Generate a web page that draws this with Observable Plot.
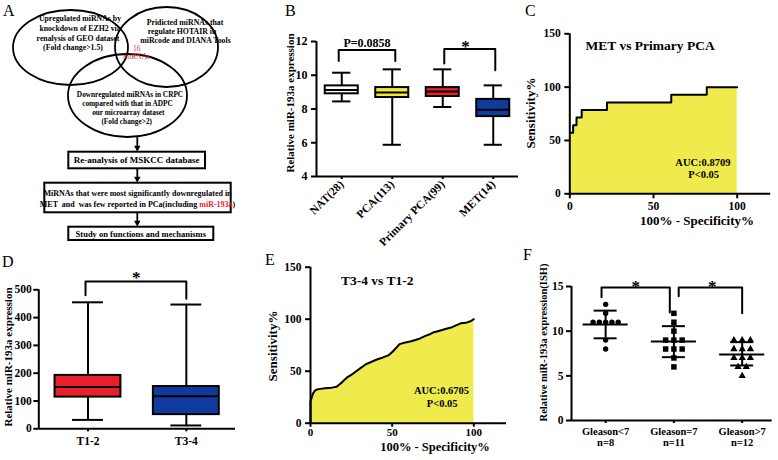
<!DOCTYPE html>
<html>
<head>
<meta charset="utf-8">
<script src="https://cdn.jsdelivr.net/npm/d3@7"></script>
<script src="https://cdn.jsdelivr.net/npm/@observablehq/plot@0.6"></script>
<style>
  html, body { margin: 0; padding: 0; background: #fff; }
  #fig { position: relative; width: 778px; height: 460px; overflow: hidden; background: #fff; }
  .panel { position: absolute; }
</style>
</head>
<body>
<div id="fig"></div>
<script>
// ---------------- DATA ----------------
// Panel B: box plot summaries
const catsB = ["NAT(28)", "PCA(113)", "Primary PCA(99)", "MET(14)"];
const minB  = [8.45, 5.88, 8.12, 5.88];
const q1B   = [8.90, 8.68, 8.74, 7.55];
const medB  = [9.13, 8.98, 9.03, 7.95];
const q3B   = [9.37, 9.27, 9.27, 8.57];
const maxB  = [10.15, 10.35, 10.35, 9.40];
const brB_x1 = [0.94, 3.03], brB_x2 = [2.06, 4.04];
const brB_top = [11.5, 11.55], brB_end1 = [10.85, 10.7], brB_end2 = [10.85, 10.3];
const brB_label = ["P=0.0858", "*"];
const brB_lx = [1.5, 3.45], brB_ly = [11.92, 11.95];

// Panel C: ROC MET vs Primary PCA (step points)
const rocC_x = [0, 2.0, 4.0, 7.1, 22.2, 60.6, 81.8, 100];
const rocC_y = [57.14, 64.29, 71.43, 78.57, 85.71, 92.86, 100, 100];
const titleC = "MET vs Primary PCA", aucC = "AUC:0.8709", pC = "P<0.05";

// Panel D: box plot summaries
const catsD = ["T1-2", "T3-4"];
const minD = [32, 12];
const q1D  = [114, 51];
const medD = [150, 117];
const q3D  = [192, 152];
const maxD = [455, 447];
const brD_x1 = [0.975], brD_x2 = [2.0], brD_top = [530], brD_end1 = [480], brD_end2 = [468];
const brD_lx = [1.49], brD_ly = [560];

// Panel E: ROC T3-4 vs T1-2
const rocE_x = [0,0,0.6,1.4,2.5,4,6,9,13,16,17.5,19.4,21,22.4,25,27.6,30.6,33.7,37.8,41,44,48,50.4,52.5,54.5,58,61,64.3,67,70.4,73,75.5,78,82.6,86.7,89.8,92,95,98,100];
const rocE_y = [0,21,24,28,31,32.5,33,33.5,34.2,35,37,39.5,42,44,46.5,49.5,53,56.5,59.3,61.5,63,65.5,69,72.5,76,77.6,78.5,80,81.5,84,85.5,87.5,88.5,90.5,92.3,94.5,96,96.5,98,100];
const titleE = "T3-4 vs T1-2", aucE = "AUC:0.6705", pE = "P<0.05";

// Panel F: Gleason groups (ISH)
const catsF = ["Gleason<7\nn=8", "Gleason=7\nn=11", "Gleason>7\nn=12"];
const valsF1 = [13, 12, 11, 11, 11, 11, 11, 9, 8];
const valsF2 = [12, 11, 10, 9, 9, 9, 8, 8, 8, 7, 6];
const valsF3 = [9, 9, 9, 8, 8, 8, 7, 7, 7, 6, 6, 5];
const meanF = [10.75, 8.85, 7.4];
const hiF   = [12.3, 10.56, 8.77];
const loF   = [9.2, 7.09, 6.16];
const brF_x1 = [0.94, 2.07], brF_x2 = [1.94, 3.0];
const brF_top = [14.9, 14.9], brF_end1 = [13.8, 13.9], brF_end2 = [12.1, 12.0];
const brF_lx = [1.44, 2.56], brF_ly = [15.45, 15.45];

// ---------------- STYLE ----------------
const SERIF = '"Liberation Serif", "Times New Roman", serif';
const baseStyle = {fontFamily: SERIF, fontWeight: "bold", fontSize: "11px", color: "black", background: "transparent", overflow: "visible"};
const fillB = ["#ffffff", "#f0ea3c", "#e8202a", "#0f3c9c"];
const fillD = ["#e8202a", "#0f3c9c"];
const rocFill = "#efeb4c";
const SW = 2;

const fig = document.getElementById("fig");
function place(svg, left, top) {
  const d = document.createElement("div");
  d.className = "panel";
  d.style.left = left + "px";
  d.style.top = top + "px";
  d.appendChild(svg);
  fig.appendChild(d);
}
function bracketPoints(x1, x2, top, e1, e2) {
  const pts = [];
  x1.forEach((_, i) => {
    pts.push({id: i, x: x1[i], y: e1[i]}, {id: i, x: x1[i], y: top[i]},
             {id: i, x: x2[i], y: top[i]}, {id: i, x: x2[i], y: e2[i]});
  });
  return pts;
}
function boxMarks(data, halfBox, halfCap, fills) {
  return [
    Plot.ruleX(data, {x: "pos", y1: "min", y2: "max", stroke: "black", strokeWidth: SW}),
    Plot.ruleY(data, {y: "min", x1: d => d.pos - halfCap, x2: d => d.pos + halfCap, stroke: "black", strokeWidth: SW}),
    Plot.ruleY(data, {y: "max", x1: d => d.pos - halfCap, x2: d => d.pos + halfCap, stroke: "black", strokeWidth: SW}),
    Plot.rect(data, {x1: d => d.pos - halfBox, x2: d => d.pos + halfBox, y1: "q1", y2: "q3",
                     fill: d => fills[d.pos - 1], stroke: "black", strokeWidth: SW}),
    Plot.ruleY(data, {y: "med", x1: d => d.pos - halfBox, x2: d => d.pos + halfBox, stroke: "black", strokeWidth: SW})
  ];
}

// ---------------- PANEL B ----------------
const dataB = catsB.map((c, i) => ({pos: i + 1, cat: c, min: minB[i], q1: q1B[i], med: medB[i], q3: q3B[i], max: maxB[i]}));
const labB = brB_label.map((t, i) => ({t, x: brB_lx[i], y: brB_ly[i]}));
place(Plot.plot({
  width: 270, height: 230, marginLeft: 66, marginRight: 2, marginTop: 41, marginBottom: 54,
  style: baseStyle,
  x: {domain: [0.5, 4.5]},
  y: {domain: [4, 12]},
  marks: [
    ...boxMarks(dataB, 0.327, 0.18, fillB),
    Plot.line(bracketPoints(brB_x1, brB_x2, brB_top, brB_end1, brB_end2), {x: "x", y: "y", z: "id", stroke: "black", strokeWidth: SW}),
    Plot.text(labB.slice(0, 1), {x: "x", y: "y", text: "t", fontSize: 12, fill: "black"}),
    Plot.text(labB.slice(1), {x: "x", y: "y", text: "t", fontSize: 17, dy: 4, fill: "black"}),
    Plot.axisY({ticks: [4, 6, 8, 10, 12], tickSize: 5, tickPadding: 4, strokeWidth: SW, fontSize: 12, label: null}),
    Plot.axisX({ticks: [1, 2, 3, 4], tickFormat: i => catsB[i - 1], tickRotate: -45, tickSize: 3, tickPadding: 3, strokeWidth: SW, fontSize: 11.5, label: null}),
    Plot.ruleX([0.5], {stroke: "black", strokeWidth: SW}),
    Plot.ruleY([4], {stroke: "black", strokeWidth: SW})
  ]
}), 250, 0);

// ---------------- PANEL C ----------------
const dataC = rocC_x.map((x, i) => ({x, y: rocC_y[i]}));
place(Plot.plot({
  width: 268, height: 230, marginLeft: 59.3, marginRight: 7.8, marginTop: 33.3, marginBottom: 36.7,
  style: baseStyle,
  x: {domain: [0, 120]},
  y: {domain: [0, 150]},
  marks: [
    Plot.areaY(dataC, {x: "x", y: "y", fill: rocFill, curve: "step-after"}),
    Plot.lineY(dataC, {x: "x", y: "y", stroke: "black", strokeWidth: SW, curve: "step-after"}),
    Plot.text([titleC], {x: 48, y: 139, fontSize: 13.5, fill: "black"}),
    Plot.text([aucC], {x: 79.5, y: 29.6, fontSize: 10.5, fill: "black"}),
    Plot.text([pC], {x: 80, y: 18.1, fontSize: 10.5, fill: "black"}),
    Plot.axisY({ticks: [0, 50, 100, 150], tickSize: 5, tickPadding: 4, strokeWidth: SW, fontSize: 11.5, label: null}),
    Plot.axisX({ticks: [0, 50, 100], tickSize: 5, tickPadding: 3, strokeWidth: SW, fontSize: 11.5, label: null}),
    Plot.ruleX([0], {stroke: "black", strokeWidth: SW}),
    Plot.ruleY([0], {stroke: "black", strokeWidth: SW})
  ]
}), 510, 0);

// ---------------- PANEL D ----------------
const dataD = catsD.map((c, i) => ({pos: i + 1, cat: c, min: minD[i], q1: q1D[i], med: medD[i], q3: q3D[i], max: maxD[i]}));
place(Plot.plot({
  width: 250, height: 230, marginLeft: 38.3, marginRight: 15, marginTop: 59.3, marginBottom: 31.7,
  style: baseStyle,
  x: {domain: [0.5, 2.5]},
  y: {domain: [0, 500]},
  marks: [
    ...boxMarks(dataD, 0.335, 0.157, fillD),
    Plot.line(bracketPoints(brD_x1, brD_x2, brD_top, brD_end1, brD_end2), {x: "x", y: "y", z: "id", stroke: "black", strokeWidth: SW}),
    Plot.text(brD_lx.map((x, i) => ({x, y: brD_ly[i]})), {x: "x", y: "y", text: () => "*", fontSize: 17, dy: 4, fill: "black"}),
    Plot.axisY({ticks: [0, 100, 200, 300, 400, 500], tickSize: 5, tickPadding: 2, strokeWidth: SW, fontSize: 11.5, label: null}),
    Plot.axisX({ticks: [1, 2], tickFormat: i => catsD[i - 1], tickSize: 3, tickPadding: 5, strokeWidth: SW, fontSize: 11.5, label: null}),
    Plot.ruleX([0.5], {stroke: "black", strokeWidth: SW}),
    Plot.ruleY([0], {stroke: "black", strokeWidth: SW})
  ]
}), 0, 230);

// ---------------- PANEL E ----------------
const dataE = rocE_x.map((x, i) => ({x, y: rocE_y[i]}));
place(Plot.plot({
  width: 270, height: 230, marginLeft: 60, marginRight: 14, marginTop: 36.7, marginBottom: 37.3,
  style: baseStyle,
  x: {domain: [0, 120]},
  y: {domain: [0, 150]},
  marks: [
    Plot.areaY(dataE, {x: "x", y: "y", fill: rocFill}),
    Plot.lineY(dataE, {x: "x", y: "y", stroke: "black", strokeWidth: SW}),
    Plot.text([titleE], {x: 40.8, y: 137, fontSize: 13.5, fill: "black"}),
    Plot.text([aucE], {x: 80.2, y: 31.4, fontSize: 10.5, fill: "black"}),
    Plot.text([pE], {x: 80.6, y: 19, fontSize: 10.5, fill: "black"}),
    Plot.axisY({ticks: [0, 50, 100, 150], tickSize: 5, tickPadding: 4, strokeWidth: SW, fontSize: 11.5, label: null}),
    Plot.axisX({ticks: [0, 50, 100], tickSize: 4, tickPadding: 1, strokeWidth: SW, fontSize: 11, label: null}),
    Plot.ruleX([0], {stroke: "black", strokeWidth: SW}),
    Plot.ruleY([0], {stroke: "black", strokeWidth: SW})
  ]
}), 250, 230);

// ---------------- PANEL F ----------------
function spread(vals, group, spacing) {
  // dots with equal values are spread symmetrically around the group centre
  const counts = d3.rollup(vals, v => v.length, d => d);
  const seen = new Map();
  return vals.map(v => {
    const k = seen.get(v) || 0; seen.set(v, k + 1);
    const n = counts.get(v);
    return {g: group, v, x: group + (k - (n - 1) / 2) * spacing};
  });
}
const ptsF1 = spread(valsF1, 1, 0.092);
const ptsF2 = spread(valsF2, 2, 0.121);
const ptsF3 = spread(valsF3, 3, 0.121);
const statF = meanF.map((m, i) => ({g: i + 1, mean: m, hi: hiF[i], lo: loF[i]}));
place(Plot.plot({
  width: 268, height: 230, marginLeft: 61, marginRight: 6.3, marginTop: 56, marginBottom: 40,
  style: baseStyle,
  x: {domain: [0.5, 3.44]},
  y: {domain: [0, 15]},
  marks: [
    Plot.dot(ptsF1, {x: "x", y: "v", symbol: "circle", r: 2.7, fill: "black"}),
    Plot.dot(ptsF2, {x: "x", y: "v", symbol: "square", r: 3.1, fill: "black"}),
    Plot.dot(ptsF3, {x: "x", y: "v", symbol: "triangle", r: 2.7, fill: "black"}),
    Plot.ruleX(statF, {x: "g", y1: "lo", y2: "hi", stroke: "black", strokeWidth: SW}),
    Plot.ruleY(statF, {y: "hi", x1: d => d.g - 0.168, x2: d => d.g + 0.168, stroke: "black", strokeWidth: SW}),
    Plot.ruleY(statF, {y: "lo", x1: d => d.g - 0.168, x2: d => d.g + 0.168, stroke: "black", strokeWidth: SW}),
    Plot.ruleY(statF, {y: "mean", x1: d => d.g - 0.33, x2: d => d.g + 0.33, stroke: "black", strokeWidth: SW}),
    Plot.line(bracketPoints(brF_x1, brF_x2, brF_top, brF_end1, brF_end2), {x: "x", y: "y", z: "id", stroke: "black", strokeWidth: SW}),
    Plot.text(brF_lx.map((x, i) => ({x, y: brF_ly[i]})), {x: "x", y: "y", text: () => "*", fontSize: 17, dy: 4, fill: "black"}),
    Plot.axisY({ticks: [0, 5, 10, 15], tickSize: 5, tickPadding: 3, strokeWidth: SW, fontSize: 11.5, label: null}),
    Plot.axisX({ticks: [1, 2, 3], tickFormat: i => catsF[i - 1], tickSize: 3, tickPadding: 4, strokeWidth: SW, fontSize: 10.5, lineHeight: 1.05, label: null}),
    Plot.ruleX([0.5], {stroke: "black", strokeWidth: SW}),
    Plot.ruleY([0], {stroke: "black", strokeWidth: SW})
  ]
}), 510, 230);

// ---------------- OVERLAY: panel A diagram, axis titles, panel letters ----------------
const ov = d3.select(fig).append("svg")
  .attr("width", 778).attr("height", 460)
  .style("position", "absolute").style("left", "0px").style("top", "0px")
  .attr("font-family", SERIF).attr("font-weight", "bold");

// Panel A: Venn diagram
const ellipses = [
  {cx: 70.5, cy: 47.5, rx: 57.5, ry: 37.5},
  {cx: 166.5, cy: 47, rx: 51.5, ry: 40},
  {cx: 127.5, cy: 95.5, rx: 59.5, ry: 41.5}
];
ov.selectAll("ellipse.v").data(ellipses).join("ellipse")
  .attr("cx", d => d.cx).attr("cy", d => d.cy).attr("rx", d => d.rx).attr("ry", d => d.ry)
  .attr("fill", "none").attr("stroke", "black").attr("stroke-width", 1.8);

const vennText = [
  {t: "Upregulated miRNAs by", x: 80, y: 21, s: 7.8},
  {t: "knockdown of EZH2 via", x: 80, y: 31, s: 7.8},
  {t: "renalysis of GEO dataset", x: 78, y: 40.5, s: 7.8},
  {t: "(Fold change>1.5)", x: 73, y: 50, s: 7.8},
  {t: "Pridicted miRNAs that", x: 185, y: 24.5, s: 7.8},
  {t: "regulate HOTAIR in", x: 182, y: 34, s: 7.8},
  {t: "miRcode and DIANA Tools", x: 185.5, y: 43, s: 7.8},
  {t: "Downregulated miRNAs in CRPC", x: 130, y: 96.5, s: 7.3},
  {t: "compared with that in ADPC", x: 127.5, y: 105.5, s: 7.3},
  {t: "our microarray dataset", x: 128.3, y: 114.5, s: 7.3},
  {t: "(Fold change>2)", x: 126.7, y: 123.5, s: 7.3}
];
ov.selectAll("text.vt").data(vennText).join("text")
  .attr("x", d => d.x).attr("y", d => d.y).attr("text-anchor", "middle")
  .attr("font-size", d => d.s).attr("font-weight", "bold").attr("fill", "black").text(d => d.t);
ov.append("text").attr("x", 136.7).attr("y", 50.5).attr("text-anchor", "middle")
  .attr("font-size", 7.5).attr("font-weight", "normal").attr("fill", "#e0303a").text("16");
ov.append("text").attr("x", 136.7).attr("y", 59).attr("text-anchor", "middle")
  .attr("font-size", 7.5).attr("font-weight", "normal").attr("fill", "#e0303a").text("miRNAs");

// flow boxes
const boxes = [
  {x1: 68.3, x2: 205, y1: 151.7, y2: 168.3},
  {x1: 44.3, x2: 230.7, y1: 182.7, y2: 212.3},
  {x1: 68.3, x2: 213.3, y1: 226.7, y2: 240}
];
ov.selectAll("rect.b").data(boxes).join("rect")
  .attr("x", d => d.x1).attr("y", d => d.y1).attr("width", d => d.x2 - d.x1).attr("height", d => d.y2 - d.y1)
  .attr("fill", "white").attr("stroke", "black").attr("stroke-width", 2);
const arrows = [{y1: 137, y2: 151.7}, {y1: 168.3, y2: 182.7}, {y1: 212.3, y2: 226.7}];
arrows.forEach(a => {
  ov.append("line").attr("x1", 137.3).attr("x2", 137.3).attr("y1", a.y1).attr("y2", a.y2 - 5)
    .attr("stroke", "black").attr("stroke-width", 1.8);
  ov.append("path").attr("d", `M${137.3 - 3.2},${a.y2 - 6} L${137.3 + 3.2},${a.y2 - 6} L137.3,${a.y2} Z`).attr("fill", "black");
});
ov.append("text").attr("x", 136.7).attr("y", 163.3).attr("text-anchor", "middle").attr("font-size", 9)
  .text("Re-analysis of MSKCC database");
ov.append("text").attr("x", 137.5).attr("y", 195.5).attr("text-anchor", "middle").attr("font-size", 8)
  .text("MiRNAs that were most significantly downregulated in");
const l2 = ov.append("text").attr("x", 137.5).attr("y", 207).attr("text-anchor", "middle").attr("font-size", 8)
  .attr("xml:space", "preserve");
l2.append("tspan").text("MET  and  was few reported in PCa(including ");
l2.append("tspan").attr("fill", "#e8202a").text("miR-193a");
l2.append("tspan").text(")");
ov.append("text").attr("x", 140.8).attr("y", 236.5).attr("text-anchor", "middle").attr("font-size", 8.5)
  .text("Study on functions and mechanisms");

// axis titles
const titles = [
  {t: "Relative miR-193a expression", x: 290, y: 103, rot: true, s: 11},
  {t: "Sensitivity%", x: 530, y: 113, rot: true, s: 13},
  {t: "100% - Specificity%", x: 697, y: 220, rot: false, s: 13},
  {t: "Relative miR-193a expression", x: 8, y: 357, rot: true, s: 11},
  {t: "Sensitivity%", x: 272.5, y: 346, rot: true, s: 13},
  {t: "100% - Specificity%", x: 435, y: 447, rot: false, s: 12.5},
  {t: "Relative miR-193a expression(ISH)", x: 543.5, y: 342.5, rot: true, s: 10.5}
];
titles.forEach(d => {
  ov.append("text").attr("transform", `translate(${d.x},${d.y})` + (d.rot ? " rotate(-90)" : ""))
    .attr("text-anchor", "middle").attr("dy", "0.35em").attr("font-size", d.s).attr("fill", "black").text(d.t);
});

// panel letters
const letters = [
  {t: "A", x: 3, y: 16}, {t: "B", x: 285, y: 16}, {t: "C", x: 525, y: 16},
  {t: "D", x: 2, y: 267}, {t: "E", x: 265, y: 265}, {t: "F", x: 523, y: 260}
];
ov.selectAll("text.l").data(letters).join("text")
  .attr("x", d => d.x).attr("y", d => d.y).attr("font-size", 16).attr("font-weight", "normal")
  .attr("fill", "black").text(d => d.t);
</script>
</body>
</html>
